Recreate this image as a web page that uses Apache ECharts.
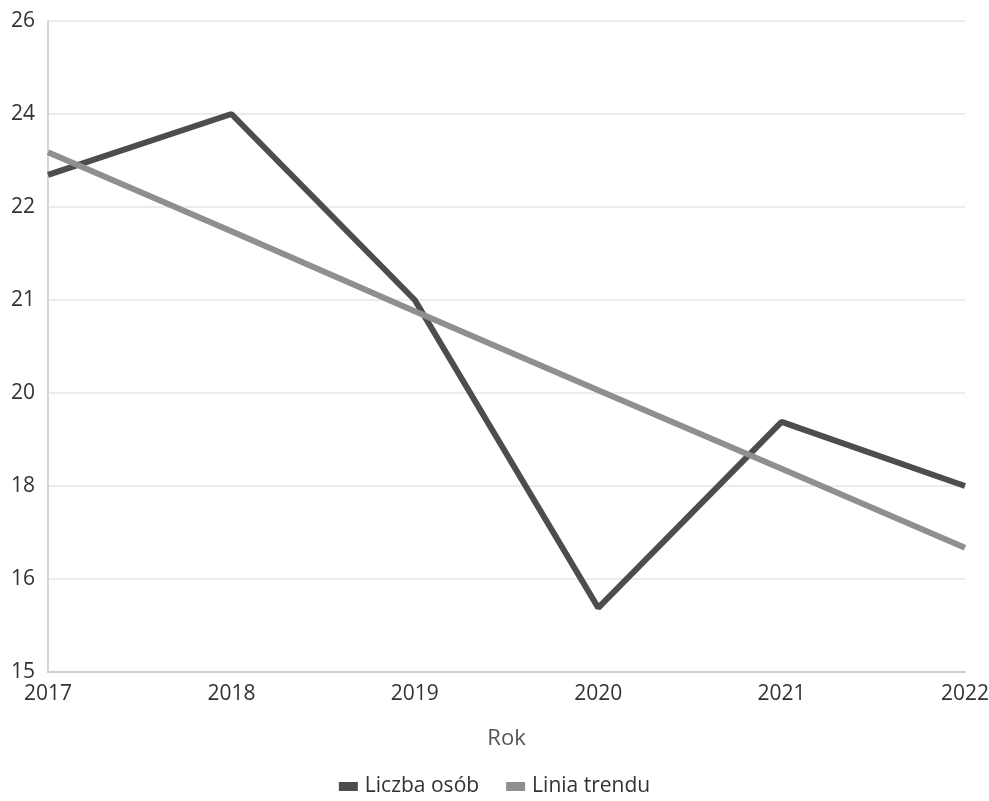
<!DOCTYPE html>
<html><head><meta charset="utf-8">
<script src="https://cdn.jsdelivr.net/npm/echarts@6/dist/echarts.min.js"></script>
<style>html,body{margin:0;padding:0;background:#fff}#c{width:989px;height:801px}</style>
</head><body><div id="c"></div>
<script>
const years = ['2017','2018','2019','2020','2021','2022'];
const yTickLabels = [15,16,18,20,21,22,24,26];
const liczbaOsob = [22.69, 24.0, 21.0, 15.69, 19.38, 18.0];
const liniaTrendu = [23.18, 21.74, 20.88, 20.03, 18.37, 16.67];

// piecewise-linear scale: value -> position among evenly spaced tick labels
function toAxis(v){
  for(let i=0;i<yTickLabels.length-1;i++){
    const a=yTickLabels[i], b=yTickLabels[i+1];
    if(v>=a && v<=b) return i + (v-a)/(b-a);
  }
  return v<yTickLabels[0]?0:yTickLabels.length-1;
}
const chart = echarts.init(document.getElementById('c'));
const font = 'Open Sans, sans-serif';
chart.setOption({
  animation:false,
  grid:{left:48,right:24,top:21,bottom:129,containLabel:false,outerBoundsMode:'none'},
  xAxis:{type:'category',data:years,boundaryGap:false,
    name:'Rok',nameLocation:'middle',nameGap:56,
    nameTextStyle:{fontSize:22,color:'#555',fontFamily:font},
    axisLine:{lineStyle:{color:'#cfcfcf',width:2}},axisTick:{show:false},
    axisLabel:{fontSize:21,color:'#333',margin:12,fontFamily:font},
    splitLine:{show:false}},
  yAxis:{type:'value',min:0,max:yTickLabels.length-1,interval:1,
    axisLine:{show:true,lineStyle:{color:'#d5d5d5',width:2}},axisTick:{show:false},
    axisLabel:{fontSize:21,color:'#333',margin:13,fontFamily:font,
      formatter:v=>yTickLabels[Math.round(v)]},
    splitLine:{lineStyle:{color:'#e6e6e6',width:1.5}}},
  legend:{bottom:-1,left:'center',itemWidth:19,itemHeight:9,itemGap:27,icon:'rect',
    textStyle:{fontSize:21,color:'#333',fontFamily:font,padding:[0,0,0,2]},
    data:['Liczba osób','Linia trendu']},
  series:[
    {name:'Liczba osób',type:'line',data:liczbaOsob.map(toAxis),symbol:'none',
      lineStyle:{color:'#4d4d4d',width:6},itemStyle:{color:'#4d4d4d'}},
    {name:'Linia trendu',type:'line',data:liniaTrendu.map(toAxis),symbol:'none',
      lineStyle:{color:'#8f8f8f',width:6},itemStyle:{color:'#8f8f8f'}}
  ]
});
</script></body></html>
